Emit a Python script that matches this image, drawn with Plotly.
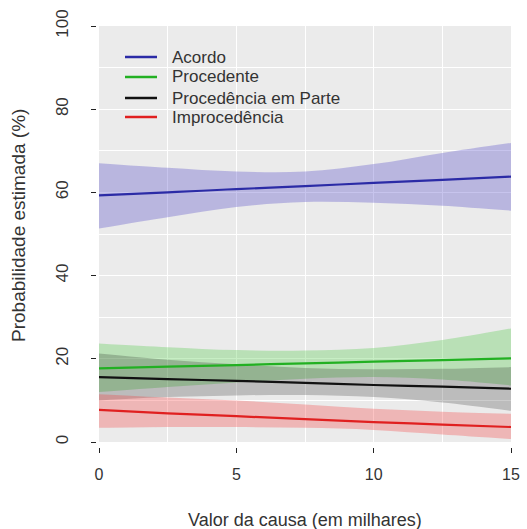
import plotly.graph_objects as go

W, H = 527, 529

# ---- data ----
valor = [0, 2.5, 5, 7.5, 10, 12.5, 15]

acordo = [59.3, 60.0, 60.8, 61.5, 62.3, 63.0, 63.8]
acordo_sup = [67.0, 65.9, 65.0, 65.0, 66.8, 69.5, 71.9]
acordo_inf = [51.3, 54.0, 56.5, 57.7, 57.5, 56.8, 55.6]

procedente = [17.7, 18.1, 18.5, 18.9, 19.3, 19.7, 20.1]
procedente_sup = [23.7, 22.8, 22.1, 22.0, 22.6, 24.5, 27.3]
procedente_inf = [12.0, 13.2, 14.3, 15.2, 15.6, 15.0, 13.6]

parte = [15.6, 15.1, 14.7, 14.2, 13.7, 13.3, 12.8]
parte_sup = [21.3, 19.8, 18.7, 17.8, 17.5, 17.6, 18.0]
parte_inf = [10.0, 10.8, 11.2, 11.3, 10.8, 9.5, 7.5]

improc = [7.7, 6.9, 6.2, 5.5, 4.8, 4.2, 3.6]
improc_sup = [11.5, 10.7, 10.0, 9.0, 8.0, 7.3, 6.8]
improc_inf = [3.4, 3.6, 3.6, 3.4, 2.9, 1.8, 0.7]

x_ticks = [0, 5, 10, 15]
y_ticks = [0, 20, 40, 60, 80, 100]

series = [
    ("Acordo", acordo, acordo_sup, acordo_inf, "#2b2ba6", "rgba(80,70,200,0.32)"),
    ("Procedente", procedente, procedente_sup, procedente_inf, "#22b022", "rgba(70,200,60,0.30)"),
    ("Procedência em Parte", parte, parte_sup, parte_inf, "#111111", "rgba(0,0,0,0.20)"),
    ("Improcedência", improc, improc_sup, improc_inf, "#e02020", "rgba(245,60,60,0.30)"),
]

fig = go.Figure()

# confidence bands
for name, mid, sup, inf, lc, fc in series:
    fig.add_trace(go.Scatter(x=valor, y=inf, mode="lines", line=dict(width=0, shape="spline"),
                             showlegend=False, hoverinfo="skip"))
    fig.add_trace(go.Scatter(x=valor, y=sup, mode="lines", line=dict(width=0, shape="spline"),
                             fill="tonexty", fillcolor=fc, showlegend=False, hoverinfo="skip"))

# lines
for name, mid, sup, inf, lc, fc in series:
    fig.add_trace(go.Scatter(x=valor, y=mid, mode="lines", name=name, showlegend=False,
                             line=dict(color=lc, width=2.2, shape="spline")))

# invisible trace so the detached (R-style) tick axes are drawn
fig.add_trace(go.Scatter(x=valor, y=acordo, xaxis="x2", yaxis="y2", mode="lines",
                         line=dict(width=0), opacity=0, showlegend=False, hoverinfo="skip"))

font_family = "Liberation Sans, Arial, sans-serif"
tick_color = "#333333"

x0, x1 = 99 / W, 511 / W
y0, y1 = (H - 442) / H, (H - 26) / H

fig.update_layout(
    width=W, height=H,
    margin=dict(l=0, r=0, t=0, b=0, autoexpand=False),
    paper_bgcolor="white",
    plot_bgcolor="#EBEBEB",
    font=dict(family=font_family, size=16, color=tick_color),
    showlegend=False,
    xaxis=dict(domain=[x0, x1], range=[0, 15], dtick=2.5, tick0=0, showgrid=True,
               gridcolor="white", gridwidth=1, showticklabels=False, ticks="",
               zeroline=False, showline=False, fixedrange=True, automargin=False),
    yaxis=dict(domain=[y0, y1], range=[0, 100], dtick=10, tick0=0, showgrid=True,
               gridcolor="white", gridwidth=1, showticklabels=False, ticks="",
               zeroline=False, showline=False, fixedrange=True, automargin=False),
    xaxis2=dict(overlaying="x", anchor="free", position=(H - 447) / H, range=[0, 15],
                tickvals=x_ticks, ticktext=[str(v) for v in x_ticks],
                ticks="outside", ticklen=5, tickwidth=1, tickcolor="#222222",
                showgrid=False, zeroline=False, showline=False, fixedrange=True,
                automargin=False,
                tickfont=dict(size=16, color=tick_color), ticklabelstandoff=8),
    yaxis2=dict(overlaying="y", anchor="free", position=96 / W, range=[0, 100],
                tickvals=y_ticks, ticktext=[str(v) for v in y_ticks],
                ticks="outside", ticklen=5, tickwidth=1, tickcolor="#222222",
                showgrid=False, zeroline=False, showline=False, tickangle=-90,
                fixedrange=True, automargin=False,
                tickfont=dict(size=17, color=tick_color), ticklabelstandoff=16),
)

# legend drawn as in the R original (line keys + labels)
leg_rows = [57, 77, 98, 117]
for (name, mid, sup, inf, lc, fc), ry in zip(series, leg_rows):
    yy = (H - ry) / H
    fig.add_shape(type="line", xref="paper", yref="paper",
                  x0=125 / W, x1=157 / W, y0=yy, y1=yy,
                  line=dict(color=lc, width=2.5))
    fig.add_annotation(text=name, xref="paper", yref="paper", x=170 / W, y=yy,
                       xanchor="left", yanchor="middle", showarrow=False,
                       font=dict(size=17, color="#333333"))

fig.add_annotation(text="Valor da causa (em milhares)", xref="paper", yref="paper",
                   x=(x0 + x1) / 2, y=(H - 520) / H, xanchor="center", yanchor="middle",
                   showarrow=False, font=dict(size=18, color="#333333"))
fig.add_annotation(text="Probabilidade estimada (%)", xref="paper", yref="paper",
                   x=19 / W, y=(H - 226) / H, xanchor="center", yanchor="middle",
                   textangle=-90, showarrow=False, font=dict(size=19, color="#333333"))

fig.write_html("out.html", config={"displayModeBar": False},
               post_script="document.body.style.margin='0';")
